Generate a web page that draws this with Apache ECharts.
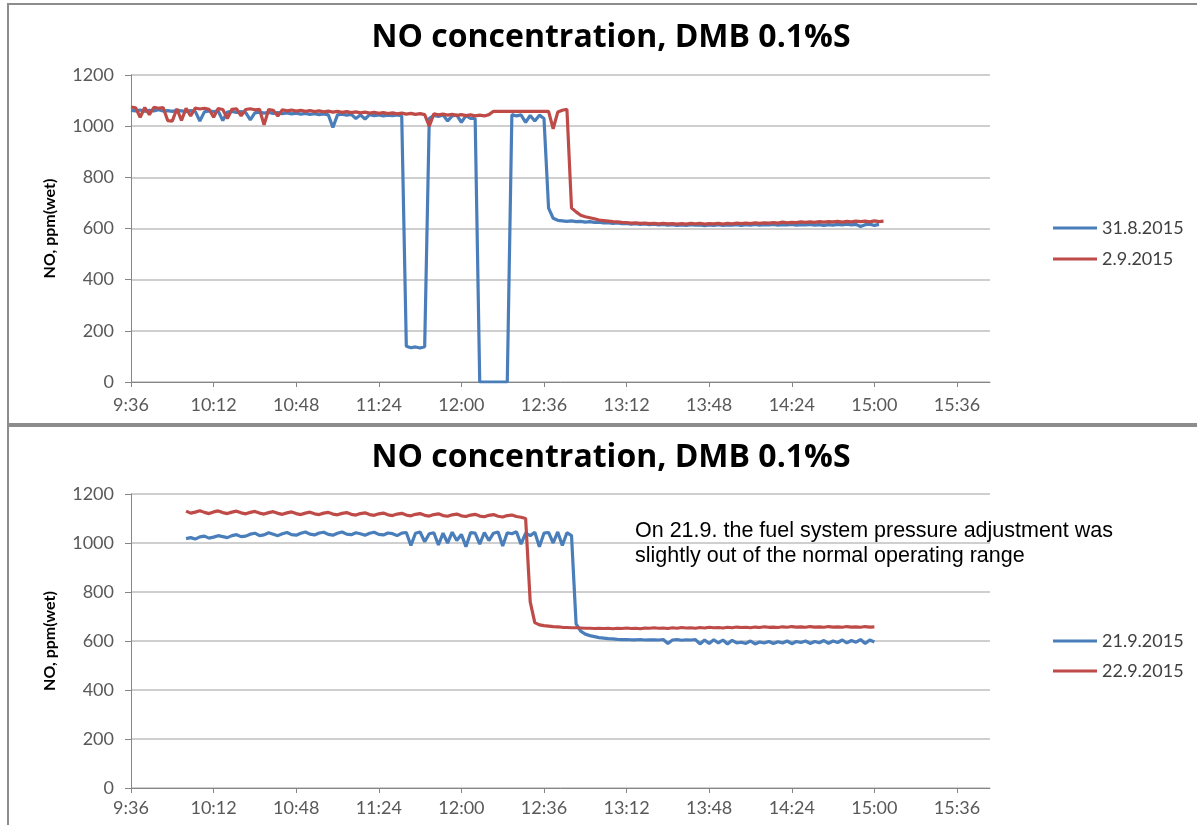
<!DOCTYPE html>
<html>
<head>
<meta charset="utf-8">
<script src="https://cdn.jsdelivr.net/npm/echarts@6/dist/echarts.min.js"></script>
<style>
html,body{margin:0;padding:0;background:#fff;}
#c{width:1197px;height:825px;}
</style>
</head>
<body>
<div id="c"></div>
<script>
// ---------------- DATA ----------------
const chartTitle = 'NO concentration, DMB 0.1%S';
const yAxisTitle = 'NO, ppm(wet)';
const xTickLabels = ['9:36','10:12','10:48','11:24','12:00','12:36','13:12','13:48','14:24','15:00','15:36'];
const yTickValues = [0, 200, 400, 600, 800, 1000, 1200];
const topSeriesNames = ['31.8.2015', '2.9.2015'];
const bottomSeriesNames = ['21.9.2015', '22.9.2015'];
const note = ['On 21.9. the fuel system pressure adjustment was', 'slightly out of the normal operating range'];
const sampleStepMin = 2; // logger sampling interval, minutes

// 31.8.2015 — samples every 2 min from 9:36
const top318Start = '9:36';
const top318 = [
 1062,1060,1063,1058,1062,1060,1064,1059,1061,1058, // 9:36
 1062,1060,1057,1061,1058,1020,1056,1060,1057,1059, // 9:56
 1022,1055,1058,1054,1057,1053,1025,1052,1055,1051, // 10:16
 1054,1050,1053,1049,1052,1048,1051,1047,1050,1046, // 10:36
 1049,1045,1048,1044,995,1044,1047,1043,1046,1030,  // 10:56
 1044,1028,1045,1041,1044,1040,1043,1041,1044,1040, // 11:16
 140,134,137,133,138,1030,1042,1038,1044,1020,      // 11:36
 1040,1043,1015,1041,1030,1030,0,0,0,0,             // 11:56
 0,0,0,1045,1040,1044,1015,1042,1020,1043,          // 12:16
 1030,680,640,632,630,628,630,627,628,625,          // 12:36
 627,624,625,622,623,620,622,619,620,617,           // 12:56
 619,616,618,615,617,614,616,613,615,612,           // 13:16
 614,612,615,613,614,611,614,612,615,612,           // 13:36
 614,613,615,612,615,613,616,613,615,614,           // 13:56
 616,613,615,614,616,613,615,614,616,613,           // 14:16
 615,612,615,613,616,614,617,614,616,608,           // 14:36
 615,617,612,616                                    // 14:56
];
// 2.9.2015 — samples every 2 min from 9:36
const top29Start = '9:36';
const top29 = [
 1075,1072,1035,1073,1045,1074,1070,1073,1022,1020, // 9:36
 1068,1022,1070,1040,1071,1067,1070,1066,1035,1069, // 9:56
 1065,1030,1066,1068,1040,1065,1068,1064,1066,1005, // 10:16
 1065,1062,1040,1064,1060,1063,1059,1062,1058,1061, // 10:36
 1057,1060,1056,1059,1055,1058,1054,1057,1053,1056, // 10:56
 1052,1055,1051,1054,1050,1053,1049,1052,1048,1051, // 11:16
 1047,1050,1046,1049,1045,1000,1048,1044,1047,1043, // 11:36
 1046,1042,1045,1041,1044,1040,1043,1040,1045,1058, // 11:56
 1058,1058,1058,1058,1058,1058,1058,1058,1058,1058, // 12:16
 1058,1058,990,1055,1062,1066,680,665,652,646,      // 12:36
 642,638,633,631,629,627,626,624,623,621,           // 12:56
 622,620,621,619,620,618,620,618,619,617,           // 13:16
 619,617,620,618,620,617,619,618,620,617,           // 13:36
 620,618,621,619,621,619,622,620,622,621,           // 13:56
 623,621,625,622,624,623,626,624,626,624,           // 14:16
 627,625,627,626,628,625,628,626,629,627,           // 14:36
 629,626,630,627,629                                // 14:56
];
// 21.9.2015 — samples every 2 min from 10:00
const bot219Start = '10:00';
const bot219 = [
 1018,1022,1016,1025,1028,1020,1024,1030,1026,1022, // 10:00
 1030,1034,1026,1028,1036,1040,1030,1033,1042,1036, // 10:20
 1030,1038,1043,1034,1032,1040,1045,1036,1033,1041, // 10:40
 1044,1035,1032,1040,1045,1036,1034,1042,1038,1032, // 11:00
 1040,1044,1035,1033,1041,1038,1030,1040,1043,990,  // 11:20
 1040,1045,1005,1038,1042,992,1040,1000,1044,1010,  // 11:40
 1035,985,1042,1040,995,1043,1010,1040,1045,988,    // 12:00
 1042,1038,1046,995,1040,1030,1044,985,1040,1043,   // 12:20
 1000,1045,990,1042,1030,670,640,628,622,618,       // 12:40
 614,612,610,609,607,606,606,605,605,606,           // 13:00
 604,605,605,604,606,590,604,606,603,605,           // 13:20
 604,606,588,604,590,605,592,604,588,603,           // 13:40
 592,595,590,600,588,596,592,598,590,597,           // 14:00
 592,600,589,598,594,600,590,598,593,602,           // 14:20
 590,600,594,604,592,602,595,606,590,604,           // 14:40
 596                                                // 15:00
];
// 22.9.2015 — samples every 2 min from 10:00
const bot229Start = '10:00';
const bot229 = [
 1130,1122,1126,1132,1125,1120,1127,1131,1124,1120, // 10:00
 1126,1130,1123,1119,1125,1129,1122,1118,1124,1128, // 10:20
 1121,1117,1123,1127,1120,1116,1122,1126,1119,1116, // 10:40
 1122,1125,1118,1115,1121,1124,1117,1114,1120,1123, // 11:00
 1116,1113,1119,1122,1115,1112,1118,1121,1114,1111, // 11:20
 1117,1120,1113,1110,1116,1119,1112,1109,1115,1118, // 11:40
 1111,1108,1114,1117,1110,1107,1113,1116,1109,1106, // 12:00
 1112,1114,1108,1105,1100,760,675,666,663,661,      // 12:20
 659,658,656,655,654,654,653,652,652,651,           // 12:40
 652,651,652,650,652,651,653,651,652,650,           // 13:00
 653,652,654,652,653,651,654,652,655,653,           // 13:20
 654,652,655,653,656,654,655,653,656,654,           // 13:40
 657,655,656,654,657,655,658,656,657,655,           // 14:00
 658,656,659,657,658,656,659,657,658,656,           // 14:20
 659,657,658,656,659,657,658,656,659,657,           // 14:40
 658                                                // 15:00
];

// ---------------- HELPERS ----------------
function toMin(s){ const p = s.split(':'); return (+p[0]) * 60 + (+p[1]); }
function fmt(v){ const h = Math.floor(v / 60), m = Math.round(v - h * 60); return h + ':' + (m < 10 ? '0' + m : m); }
function pairs(start, vals){ const t0 = toMin(start); return vals.map((v, i) => [t0 + i * sampleStepMin, v]); }

const xTicks = xTickLabels.map(toMin);
const xMin = xTicks[0];
const xMax = 950.4; // 0.66 day
const xInterval = xTicks[1] - xTicks[0];

const blue = '#4A7EBB', red = '#BE4B48';
const labelFont = 'Lato, "Open Sans", sans-serif';
const titleFont = '"Open Sans", Lato, sans-serif';

function xAxis(gi, margin){
  return {
    type: 'value', gridIndex: gi, min: xMin, max: xMax, interval: xInterval,
    axisLine: { show: true, lineStyle: { color: '#868686', width: 1 } },
    axisTick: { show: true, length: 5, inside: false, lineStyle: { color: '#868686' }, customValues: xTicks },
    axisLabel: { color: '#595959', fontSize: 18, fontFamily: labelFont, margin: margin, formatter: fmt, customValues: xTicks },
    splitLine: { show: false }
  };
}
function yAxis(gi){
  return {
    type: 'value', gridIndex: gi, min: yTickValues[0], max: yTickValues[yTickValues.length - 1],
    interval: yTickValues[1] - yTickValues[0],
    name: yAxisTitle, nameLocation: 'middle', nameGap: 73, nameRotate: 90,
    nameTextStyle: { fontSize: 16, fontWeight: 'bold', color: '#000', fontFamily: labelFont },
    axisLine: { show: true, lineStyle: { color: '#868686', width: 1 } },
    axisTick: { show: true, length: 6, lineStyle: { color: '#868686' } },
    axisLabel: { color: '#595959', fontSize: 18, fontFamily: labelFont, margin: 17, formatter: v => String(v) },
    splitLine: { show: true, lineStyle: { color: '#BFBFBF', width: 1.5 } }
  };
}
function line(name, color, data, gi){
  return {
    name: name, type: 'line', xAxisIndex: gi, yAxisIndex: gi, data: data,
    showSymbol: false, symbol: 'none', lineStyle: { color: color, width: 3.2 }, itemStyle: { color: color },
    emphasis: { disabled: true }, animation: false
  };
}

const chart = echarts.init(document.getElementById('c'), null, { renderer: 'canvas' });
chart.setOption({
  backgroundColor: '#fff',
  animation: false,
  title: [
    { text: chartTitle, left: 606, textAlign: 'center', top: 17,
      textStyle: { fontSize: 32, fontWeight: 'bold', color: '#000', fontFamily: titleFont } },
    { text: chartTitle, left: 606, textAlign: 'center', top: 437,
      textStyle: { fontSize: 32, fontWeight: 'bold', color: '#000', fontFamily: titleFont } }
  ],
  grid: [
    { left: 131, top: 75, width: 859, height: 307 },
    { left: 131, top: 494, width: 859, height: 294 }
  ],
  legend: [
    { data: topSeriesNames, orient: 'vertical', left: 1048, top: 214, itemWidth: 44, itemHeight: 3, itemGap: 13,
      icon: 'rect', textStyle: { fontSize: 18, color: '#404040', fontFamily: labelFont }, selectedMode: false },
    { data: bottomSeriesNames, orient: 'vertical', left: 1048, top: 627, itemWidth: 44, itemHeight: 3, itemGap: 12,
      icon: 'rect', textStyle: { fontSize: 18, color: '#404040', fontFamily: labelFont }, selectedMode: false }
  ],
  xAxis: [ xAxis(0, 14), xAxis(1, 11) ],
  yAxis: [ yAxis(0), yAxis(1) ],
  series: [
    line(topSeriesNames[0], blue, pairs(top318Start, top318), 0),
    line(topSeriesNames[1], red, pairs(top29Start, top29), 0),
    line(bottomSeriesNames[0], blue, pairs(bot219Start, bot219), 1),
    line(bottomSeriesNames[1], red, pairs(bot229Start, bot229), 1)
  ],
  graphic: [
    { type: 'rect', shape: { x: 8, y: 4, width: 1200, height: 420 }, style: { fill: null, stroke: '#8C8C8C', lineWidth: 2 }, z: 100, silent: true },
    { type: 'rect', shape: { x: 8, y: 426, width: 1200, height: 410 }, style: { fill: null, stroke: '#8C8C8C', lineWidth: 2 }, z: 100, silent: true },
    { type: 'text', left: 635, top: 519, z: 100, silent: true,
      style: { text: note.join('\n'), font: '21.5px "Liberation Sans", Arial, sans-serif', fill: '#000', lineHeight: 25 } }
  ]
});
</script>
</body>
</html>
